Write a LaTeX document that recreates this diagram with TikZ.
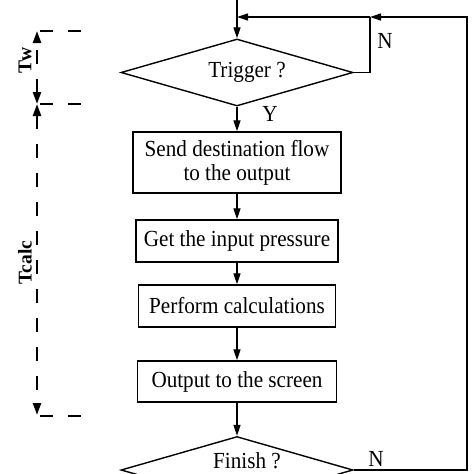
\documentclass[tikz,border=0pt]{standalone}
\usepackage{fontspec}
\setmainfont[FakeStretch=0.92]{Liberation Serif}
\newfontfamily\labfont{Liberation Serif}
\usetikzlibrary{shapes.geometric,arrows.meta}
\begin{document}
\begin{tikzpicture}[x=1pt,y=-1pt,
  font=\fontsize{23}{24}\selectfont,
  box/.style={draw, line width=1.4pt, inner sep=0pt, align=center},
  dec/.style={diamond, draw, line width=1.4pt, minimum width=232pt, minimum height=67pt, inner sep=0pt},
  flow/.style={line width=1.3pt, -{Triangle[length=11pt,width=7pt]}},
  plain/.style={line width=1.3pt},
  dim/.style={line width=2.4pt, dash pattern=on 14pt off 15pt, {Triangle[length=12pt,width=8pt]}-{Triangle[length=12pt,width=8pt]}},
  tick/.style={line width=2.4pt, dash pattern=on 13pt off 15pt},
  lab/.style={font=\labfont\fontsize{19.5}{21}\selectfont\bfseries, rotate=90, inner sep=0pt},
  txt/.style={inner sep=0pt}]
\useasboundingbox (0,0) rectangle (474,474);
% main nodes
\coordinate (top) at (237,0);
\node[dec] (trig) at (237,72.5) {};
\node[txt] (trigt) at (247,72) {Trigger ?};
\node[box, minimum width=208pt, minimum height=61pt] (b1) at (237,162.5) {Send destination flow\\to the output};
\node[box, minimum width=202pt, minimum height=42pt] (b2) at (237,241) {Get the input pressure};
\node[box, minimum width=197pt, minimum height=42pt] (b3) at (237,306) {Perform calculations};
\node[box, minimum width=199pt, minimum height=41pt] (b4) at (237,381.5) {Output to the screen};
\node[dec] (fin) at (237,470) {};
\node[txt, anchor=base] (fint) at (247,468) {Finish ?};
% loop coordinates
\coordinate (nj) at (370,17);
\coordinate (mj) at (237,17);
\coordinate (rc) at (467,17);
% connectors
\draw[flow] (top) -- (trig.north);
\draw[flow] (trig.south) -- (b1.north);
\draw[flow] (b1.south) -- (b2.north);
\draw[flow] (b2.south) -- (b3.north);
\draw[flow] (b3.south) -- (b4.north);
\draw[flow] (b4.south) -- (fin.north);
\draw[plain] (trig.east) -| (nj);
\draw[flow] (fin.east) -| (rc) -- (nj);
\draw[flow] (nj) -- (mj);
% branch labels
\node[txt] (n1) at (385,41) {N};
\node[txt] (y1) at (270,114) {Y};
\node[txt] (n2) at (376,459) {N};
% timing annotations
\coordinate (d1) at (37,31);
\coordinate (d2) at (37,104);
\coordinate (d3) at (37,415);
\draw[dim] (d2) -- (d1);
\draw[dim] (d2) -- (d3);
\coordinate (h1a) at (40,31);  \coordinate (h1b) at (82,31);
\coordinate (h2a) at (40,104); \coordinate (h2b) at (82,104);
\coordinate (h3a) at (40,416); \coordinate (h3b) at (82,416);
\draw[tick] (h1a) -- (h1b);
\draw[tick] (h2a) -- (h2b);
\draw[tick] (h3a) -- (h3b);
\node[lab] (tw) at (25,60.5) {Tw};
\node[lab] (tc) at (25,262.5) {Tcalc};
\end{tikzpicture}
\end{document}
